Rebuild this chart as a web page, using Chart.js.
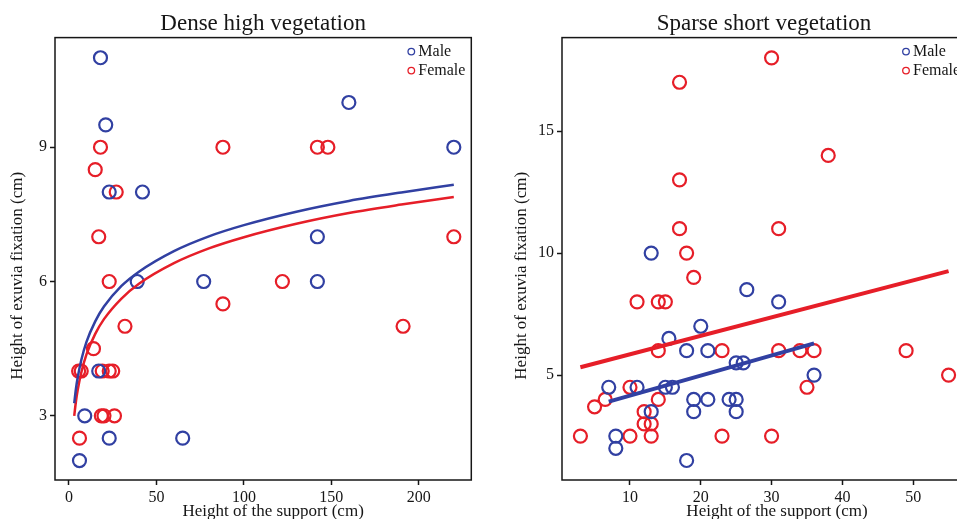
<!DOCTYPE html>
<html>
<head>
<meta charset="utf-8">
<script src="https://cdn.jsdelivr.net/npm/chart.js@4.4.1/dist/chart.umd.min.js"></script>
<style>
  body { margin: 0; width: 957px; height: 519px; overflow: hidden; background: #fff; }
  .panel { position: absolute; top: 0; }
</style>
</head>
<body>
<div class="panel" style="left:0"><canvas id="dense" width="480" height="519"></canvas></div>
<div class="panel" style="left:480px"><canvas id="sparse" width="500" height="519"></canvas></div>
<script>
// Dense high vegetation (left panel)
const denseMaleX = [18, 21, 23, 42, 160, 220, 142, 39, 77, 142, 17, 9, 23, 65, 6];
const denseMaleY = [11, 9.5, 8, 8, 10, 9, 7, 6, 6, 6, 4, 3, 2.5, 2.5, 2];
const denseFemaleX = [18, 15, 27, 88, 142, 148, 17, 220, 23, 122, 88, 32, 191, 14, 5.5, 7, 19, 23, 25, 18.5, 20, 26, 6];
const denseFemaleY = [9, 8.5, 8, 9, 9, 9, 7, 7, 6, 6, 5.5, 5, 5, 4.5, 4, 4, 4, 4, 4, 3, 3, 3, 2.5];
// fitted curves
const denseFitX = [3, 4, 5, 7, 10, 15, 20, 30, 40, 60, 80, 100, 130, 160, 190, 220];
const denseFitMale = [3.28, 3.61, 3.86, 4.24, 4.65, 5.11, 5.44, 5.90, 6.22, 6.68, 7.01, 7.26, 7.56, 7.80, 7.99, 8.16];
const denseFitFemale = [3.00, 3.33, 3.58, 3.96, 4.37, 4.83, 5.16, 5.62, 5.95, 6.41, 6.74, 6.99, 7.29, 7.53, 7.72, 7.89];
const denseXTicks = [0, 50, 100, 150, 200];
const denseYTicks = [3, 6, 9];

// Sparse short vegetation (right panel)
const sparseMaleX = [13, 26.5, 31, 20, 15.5, 18, 21, 25, 26, 36, 7, 11, 15, 16, 19, 21, 24, 25, 13, 19, 25, 8, 8, 18];
const sparseMaleY = [10, 8.5, 8, 7, 6.5, 6, 6, 5.5, 5.5, 5, 4.5, 4.5, 4.5, 4.5, 4, 4, 4, 4, 3.5, 3.5, 3.5, 2.5, 2, 1.5];
const sparseFemaleX = [30, 17, 38, 17, 17, 31, 18, 19, 11, 14, 15, 14, 23, 31, 34, 36, 49, 55, 10, 35, 6.5, 14, 5, 12, 12, 13, 3, 10, 13, 23, 30];
const sparseFemaleY = [18, 17, 14, 13, 11, 11, 10, 9, 8, 8, 8, 6, 6, 6, 6, 6, 6, 5, 4.5, 4.5, 4, 4, 3.7, 3.5, 3, 3, 2.5, 2.5, 2.5, 2.5, 2.5];
const sparseFitMaleX = [7, 36];
const sparseFitMaleY = [3.91, 6.30];
const sparseFitFemaleX = [3, 55];
const sparseFitFemaleY = [5.32, 9.26];
const sparseXTicks = [10, 20, 30, 40, 50];
const sparseYTicks = [5, 10, 15];

const seriesLabels = ['Male', 'Female'];
const xTitle = 'Height of the support (cm)';
const yTitle = 'Height of exuvia fixation (cm)';

const BLUE = '#3140a2';
const RED = '#e61e28';
const INK = '#161616';
const SERIF = '"Liberation Serif", "Times New Roman", serif';

Chart.defaults.font.family = SERIF;
Chart.defaults.color = INK;

function pts(xs, ys) {
    return xs.map((x, i) => ({ x: x, y: ys[i] }));
}

// box round the plot area
const framePlugin = {
    id: 'frame',
    afterDatasetsDraw(chart) {
        const { ctx, chartArea: a } = chart;
        ctx.save();
        ctx.strokeStyle = INK;
        ctx.lineWidth = 1.5;
        ctx.strokeRect(a.left, a.top, a.right - a.left, a.bottom - a.top);
        ctx.restore();
    }
};

// small legend in the top right corner
const cornerLegend = {
    id: 'cornerLegend',
    afterDraw(chart) {
        const { ctx, chartArea: a } = chart;
        ctx.save();
        ctx.font = '16px ' + SERIF;
        ctx.textBaseline = 'middle';
        chart.data.datasets.slice(0, 2).forEach((ds, i) => {
            const y = a.top + 14 + i * 19;
            ctx.beginPath();
            ctx.arc(a.right - 60, y, 3.3, 0, Math.PI * 2);
            ctx.strokeStyle = ds.borderColor;
            ctx.lineWidth = 1.3;
            ctx.stroke();
            ctx.fillStyle = INK;
            ctx.fillText(ds.label, a.right - 53, y);
        });
        ctx.restore();
    }
};

// axis titles (a little off centre, like the original)
const axisTitles = {
    id: 'axisTitles',
    afterDraw(chart, args, opts) {
        const { ctx, chartArea: a } = chart;
        ctx.save();
        ctx.font = '17px ' + SERIF;
        ctx.fillStyle = INK;
        ctx.textAlign = 'center';
        ctx.textBaseline = 'middle';
        ctx.fillText(xTitle, (a.left + a.right) / 2 + opts.xShift, 512);
        ctx.translate(opts.yX, (a.top + a.bottom) / 2 + 17);
        ctx.rotate(-Math.PI / 2);
        ctx.fillText(yTitle, 0, 0);
        ctx.restore();
    }
};

function axis(min, max, ticks, fit) {
    return {
        type: 'linear',
        min: min,
        max: max,
        afterBuildTicks: s => { s.ticks = ticks.map(v => ({ value: v })); },
        afterFit: fit,
        border: { display: false },
        grid: { drawOnChartArea: false, tickLength: 5, tickColor: INK, tickWidth: 1.5 },
        ticks: { font: { size: 16 }, color: INK, padding: 3, maxRotation: 0, autoSkip: false }
    };
}

function makeChart(id, p) {
    return new Chart(document.getElementById(id), {
        type: 'scatter',
        data: {
            datasets: [
                { label: seriesLabels[0], data: pts(p.maleX, p.maleY), borderColor: BLUE, backgroundColor: 'rgba(0,0,0,0)',
                  pointRadius: 6.5, pointBorderWidth: 2.2, order: 2 },
                { label: seriesLabels[1], data: pts(p.femaleX, p.femaleY), borderColor: RED, backgroundColor: 'rgba(0,0,0,0)',
                  pointRadius: 6.5, pointBorderWidth: 2.2, order: 2 },
                { type: 'line', label: 'fit male', data: pts(p.fitMaleX, p.fitMaleY), borderColor: BLUE,
                  borderWidth: p.lineWidth, pointRadius: 0, cubicInterpolationMode: 'monotone', order: 1 },
                { type: 'line', label: 'fit female', data: pts(p.fitFemaleX, p.fitFemaleY), borderColor: RED,
                  borderWidth: p.lineWidth, pointRadius: 0, cubicInterpolationMode: 'monotone', order: 1 }
            ]
        },
        options: {
            responsive: false,
            animation: false,
            events: [],
            layout: { padding: p.padding },
            scales: {
                x: axis(p.xMin, p.xMax, p.xTicks, s => { s.height = 39; }),
                y: axis(p.yMin, p.yMax, p.yTicks, s => { s.width = p.yWidth; })
            },
            plugins: {
                legend: { display: false },
                tooltip: { enabled: false },
                title: {
                    display: true,
                    text: p.title,
                    fullSize: false,
                    color: INK,
                    font: { size: 23, weight: 'normal', lineHeight: 1.2 },
                    padding: { top: 10, bottom: 0 }
                },
                axisTitles: p.axisTitles
            }
        },
        plugins: [framePlugin, cornerLegend, axisTitles]
    });
}

makeChart('dense', {
    title: 'Dense high vegetation',
    maleX: denseMaleX, maleY: denseMaleY,
    femaleX: denseFemaleX, femaleY: denseFemaleY,
    fitMaleX: denseFitX, fitMaleY: denseFitMale,
    fitFemaleX: denseFitX, fitFemaleY: denseFitFemale,
    xTicks: denseXTicks, yTicks: denseYTicks,
    xMin: -8, xMax: 230, yMin: 1.565, yMax: 11.45,
    lineWidth: 2.5,
    yWidth: 55,
    padding: { left: 0, right: 8, top: 0, bottom: 0 },
    axisTitles: { xShift: 10, yX: 18 }
});

makeChart('sparse', {
    title: 'Sparse short vegetation',
    maleX: sparseMaleX, maleY: sparseMaleY,
    femaleX: sparseFemaleX, femaleY: sparseFemaleY,
    fitMaleX: sparseFitMaleX, fitMaleY: sparseFitMaleY,
    fitFemaleX: sparseFitFemaleX, fitFemaleY: sparseFitFemaleY,
    xTicks: sparseXTicks, yTicks: sparseYTicks,
    xMin: 0.4, xMax: 57.46, yMin: 0.7, yMax: 18.83,
    lineWidth: 4,
    yWidth: 58,
    padding: { left: 24, right: 14, top: 0, bottom: 0 },
    axisTitles: { xShift: 13, yX: 42 }
});
</script>
</body>
</html>
